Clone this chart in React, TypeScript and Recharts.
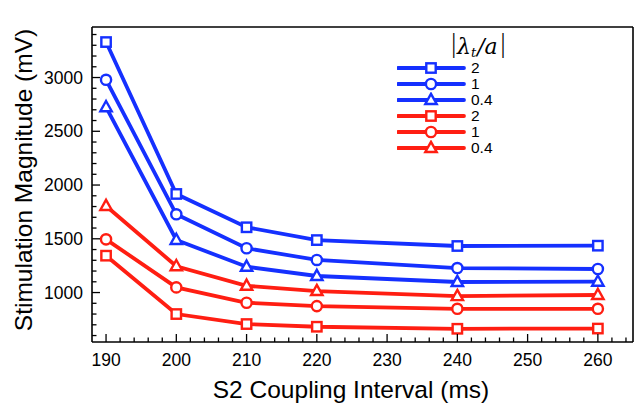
import React from 'react';
import { LineChart, Line, XAxis, YAxis, ReferenceLine } from 'recharts';

const intervals = [190, 200, 210, 220, 240, 260];
const blueSquare = [3330, 1917, 1607, 1488, 1433, 1436];
const blueCircle = [2979, 1728, 1412, 1303, 1228, 1219];
const blueTriangle = [2724, 1489, 1240, 1154, 1098, 1101];
const redSquare = [1343, 800, 707, 682, 663, 665];
const redCircle = [1495, 1048, 905, 874, 849, 849];
const redTriangle = [1805, 1245, 1063, 1014, 967, 977];

const seriesLabels = ['2', '1', '0.4', '2', '1', '0.4'];

const xMajorTicks = [190, 200, 210, 220, 230, 240, 250, 260];
const xAllTicks = [
  190, 192, 194, 196, 198, 200, 202, 204, 206, 208, 210, 212, 214, 216, 218, 220,
  222, 224, 226, 228, 230, 232, 234, 236, 238, 240, 242, 244, 246, 248, 250, 252,
  254, 256, 258, 260, 262, 264,
];
const yMajorTicks = [1000, 1500, 2000, 2500, 3000];
const yAllTicks = [
  600, 700, 800, 900, 1000, 1100, 1200, 1300, 1400, 1500, 1600, 1700, 1800, 1900,
  2000, 2100, 2200, 2300, 2400, 2500, 2600, 2700, 2800, 2900, 3000, 3100, 3200,
  3300, 3400,
];
const xDomain = [188, 265];
const yDomain = [540, 3470];

const BLUE = '#1530ff';
const RED = '#ff1e12';
const FONT = '"Liberation Sans", Arial, Helvetica, sans-serif';
const SERIF = '"DejaVu Serif", "Liberation Serif", serif';

const data = intervals.map((x, i) => ({
  x,
  bSq: blueSquare[i],
  bCi: blueCircle[i],
  bTr: blueTriangle[i],
  rSq: redSquare[i],
  rCi: redCircle[i],
  rTr: redTriangle[i],
}));

const series = [
  { key: 'bSq', color: BLUE, shape: 'square', label: seriesLabels[0] },
  { key: 'bCi', color: BLUE, shape: 'circle', label: seriesLabels[1] },
  { key: 'bTr', color: BLUE, shape: 'triangle', label: seriesLabels[2] },
  { key: 'rSq', color: RED, shape: 'square', label: seriesLabels[3] },
  { key: 'rCi', color: RED, shape: 'circle', label: seriesLabels[4] },
  { key: 'rTr', color: RED, shape: 'triangle', label: seriesLabels[5] },
];

function Marker({ cx, cy, shape, color }: { cx: number; cy: number; shape: string; color: string }) {
  if (shape === 'square') {
    return <rect x={cx - 4.7} y={cy - 4.7} width={9.4} height={9.4} fill="#fff" stroke={color} strokeWidth={2.4} />;
  }
  if (shape === 'circle') {
    return <circle cx={cx} cy={cy} r={5.1} fill="#fff" stroke={color} strokeWidth={2.4} />;
  }
  return (
    <polygon
      points={`${cx},${cy - 6.2} ${cx + 5.7},${cy + 4} ${cx - 5.7},${cy + 4}`}
      fill="#fff"
      stroke={color}
      strokeWidth={2.4}
    />
  );
}

const XTick = (props: any) => {
  const { x, y, payload } = props;
  const v = payload.value;
  const major = xMajorTicks.includes(v);
  return (
    <g>
      <line x1={x} x2={x} y1={y} y2={y - (major ? 8 : 4.5)} stroke="#000" strokeWidth={1.3} />
      {major && (
        <text x={x} y={y + 18} textAnchor="middle" dominantBaseline="central" fontSize={17.5} fontFamily={FONT} fill="#000">
          {v}
        </text>
      )}
    </g>
  );
};

const YTick = (props: any) => {
  const { x, y, payload } = props;
  const v = payload.value;
  const major = yMajorTicks.includes(v);
  return (
    <g>
      <line x1={x} x2={x + (major ? 8 : 4.5)} y1={y} y2={y} stroke="#000" strokeWidth={1.3} />
      {major && (
        <text x={x - 9} y={y} textAnchor="end" dominantBaseline="central" fontSize={17.5} fontFamily={FONT} fill="#000">
          {v}
        </text>
      )}
    </g>
  );
};

const LegendBox = () => (
  <div style={{ position: 'absolute', left: 397, top: 30, width: 150, height: 132, fontFamily: FONT }}>
    <svg width={150} height={32} style={{ position: 'absolute', left: 0, top: 0, overflow: 'visible' }}>
      <text x={52.5} y={22} fill="#000" fontFamily={SERIF} fontSize={22}>
        <tspan fontFamily='"DejaVu Sans", sans-serif' fontSize={25} fontWeight={300}>|</tspan>
        <tspan fontStyle="italic" dy={2} dx={-1}>λ</tspan>
        <tspan fontStyle="italic" fontSize={13} dy={3}>t</tspan>
        <tspan fontStyle="italic" dy={-3} dx={1}>/a</tspan>
        <tspan fontFamily='"DejaVu Sans", sans-serif' fontSize={25} fontWeight={300} dy={-2} dx={1}>|</tspan>
      </text>
    </svg>
    {series.map((s, i) => (
      <div key={s.key} style={{ position: 'absolute', left: 0, top: 30 + i * 16, height: 16, display: 'flex', alignItems: 'center' }}>
        <svg width={70} height={16} style={{ display: 'block' }}>
          <line x1={1} x2={67} y1={8} y2={8} stroke={s.color} strokeWidth={3.8} strokeLinecap="round" />
          <Marker cx={34} cy={8} shape={s.shape} color={s.color} />
        </svg>
        <span style={{ fontSize: 15.5, marginLeft: 4, color: '#000', lineHeight: '16px' }}>{s.label}</span>
      </div>
    ))}
  </div>
);

export default function App() {
  return (
    <div style={{ position: 'absolute', left: 0, top: 0, width: 635, height: 409, background: '#fff' }}>
      <LineChart width={635} height={409} data={data} margin={{ top: 27, right: 2, left: 0, bottom: 0 }}>
        <XAxis
          type="number"
          dataKey="x"
          domain={xDomain}
          allowDataOverflow
          ticks={xAllTicks}
          interval={0}
          tickSize={0}
          tickMargin={0}
          tickLine={false}
          tick={<XTick />}
          height={67}
          axisLine={{ stroke: '#000', strokeWidth: 1.6 }}
          label={{
            content: () => (
              <text x={351} y={389} textAnchor="middle" dominantBaseline="central" fontSize={24.5} fontFamily={FONT} fill="#000">
                S2 Coupling Interval (ms)
              </text>
            ),
          }}
        />
        <YAxis
          type="number"
          domain={yDomain}
          allowDataOverflow
          ticks={yAllTicks}
          interval={0}
          tickSize={0}
          tickMargin={0}
          tickLine={false}
          tick={<YTick />}
          width={92}
          axisLine={{ stroke: '#000', strokeWidth: 1.6 }}
          label={{
            content: () => (
              <text
                x={23}
                y={180}
                textAnchor="middle"
                dominantBaseline="central"
                fontSize={24.5}
                fontFamily={FONT}
                fill="#000"
                transform="rotate(-90 23 180)"
              >
                Stimulation Magnitude (mV)
              </text>
            ),
          }}
        />
        <ReferenceLine y={yDomain[1]} stroke="#000" strokeWidth={1.6} />
        <ReferenceLine x={xDomain[1]} stroke="#000" strokeWidth={1.6} />
        {series.map((s) => (
          <Line
            key={s.key}
            type="linear"
            dataKey={s.key}
            stroke={s.color}
            strokeWidth={3.8}
            isAnimationActive={false}
            legendType="none"
            dot={(p: any) => <Marker key={`${s.key}-${p.index}`} cx={p.cx} cy={p.cy} shape={s.shape} color={s.color} />}
            activeDot={false}
          />
        ))}
      </LineChart>
      <LegendBox />
    </div>
  );
}
